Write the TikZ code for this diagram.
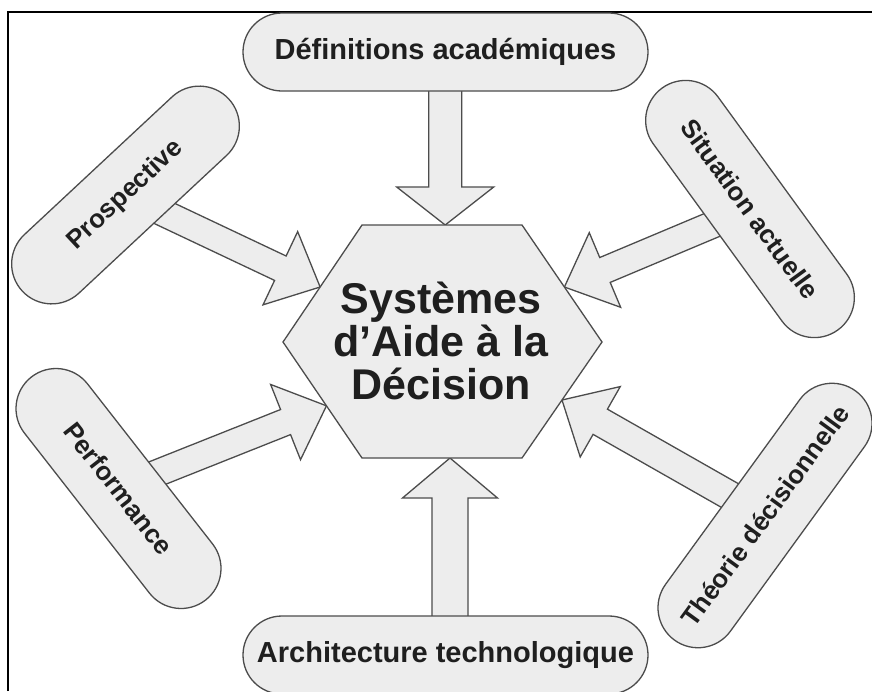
\documentclass[tikz,border=0pt]{standalone}
\usepackage{fontspec}
\setmainfont{Liberation Sans}
\usetikzlibrary{calc,shapes.misc,backgrounds}

\tikzset{
  pill/.style={rounded rectangle,draw=black!70,fill=black!7,line width=1.3pt,
    minimum height=80pt,inner sep=0pt,text=black!88,
    font=\bfseries\fontsize{26}{26}\selectfont},
  hexa/.style={draw=black!70,fill=black!7,line width=1.3pt},
  bigarrowbox/.style={draw=black!70,fill=black!7,line width=1.3pt,line join=miter},
}

% block arrow: tail, tip, half shaft, half head, head length
\newcommand{\bigarrow}[5]{%
  \coordinate (hb) at ($(#2)!#5!(#1)$);
  \draw[bigarrowbox] ($(#1)!#3!90:(#2)$) -- ($(hb)!#3!90:(#2)$) -- ($(hb)!#4!90:(#2)$) -- (#2)
    -- ($(hb)!#4!-90:(#2)$) -- ($(hb)!#3!-90:(#2)$) -- ($(#1)!#3!-90:(#2)$) -- cycle;
}

\begin{document}
\begin{tikzpicture}[x=1pt,y=-1pt]
\useasboundingbox (0,0) rectangle (872,691);
\draw[line width=1.6pt] (8,691) -- (8,12) -- (872,12);

% hexagone
\coordinate (htl) at (362,225);
\coordinate (htr) at (522,225);
\coordinate (hr) at (602,342);
\coordinate (hbr) at (522,458);
\coordinate (hbl) at (362,458);
\coordinate (hl) at (283,342);
\draw[hexa] (htl) -- (htr) -- (hr) -- (hbr) -- (hbl) -- (hl) -- cycle;
\node[align=center,text=black!88,font=\bfseries\fontsize{43}{43}\selectfont] (sad) at (441,341)
  {Systèmes\\d'Aide à la\\Décision};

% bulles
\node[pill,minimum width=405pt,minimum height=78pt,font=\bfseries\fontsize{29}{29}\selectfont]
  (defs) at (445.5,52) {Définitions académiques};
\node[pill,minimum width=405pt,minimum height=78pt,font=\bfseries\fontsize{29}{29}\selectfont]
  (archi) at (445.5,655) {Architecture technologique};
\node[pill,rotate=43,minimum width=282pt] (pros) at (125.5,195) {Prospective};
\node[pill,rotate=-54,minimum width=299pt] (situ) at (750,209) {Situation actuelle};
\node[pill,rotate=-52,minimum width=283pt] (perf) at (118.5,488.5) {Performance};
\node[pill,rotate=54,minimum width=308pt] (theo) at (765,515.5) {Théorie décisionnelle};

% pointes
\coordinate (ttop) at ($(htl)!0.52!(htr)$);
\coordinate (tbot) at ($(hbl)!0.55!(hbr)$);
\coordinate (tpros) at ($(hl)!0.47!(htl)$);
\coordinate (tsitu) at ($(hr)!0.47!(htr)$);
\coordinate (tperf) at ($(hl)!0.55!(hbl)$);
\coordinate (ttheo) at ($(hr)!0.5!(hbr)$);
\coordinate (sdefs) at (defs.center -| ttop);
\coordinate (sarchi) at (archi.center -| tbot);

\begin{scope}[on background layer]
\fill[white] (0,0) rectangle (872,691);
\bigarrow{sdefs}{ttop}{16.5pt}{48.5pt}{38pt}
\bigarrow{sarchi}{tbot}{18pt}{47.5pt}{40pt}
\bigarrow{pros.center}{tpros}{13.5pt}{40.5pt}{44pt}
\bigarrow{situ.center}{tsitu}{13.5pt}{40.5pt}{44pt}
\bigarrow{perf.center}{tperf}{13.5pt}{40.5pt}{44pt}
\bigarrow{theo.center}{ttheo}{14.5pt}{40.5pt}{44pt}
\end{scope}
\end{tikzpicture}
\end{document}
